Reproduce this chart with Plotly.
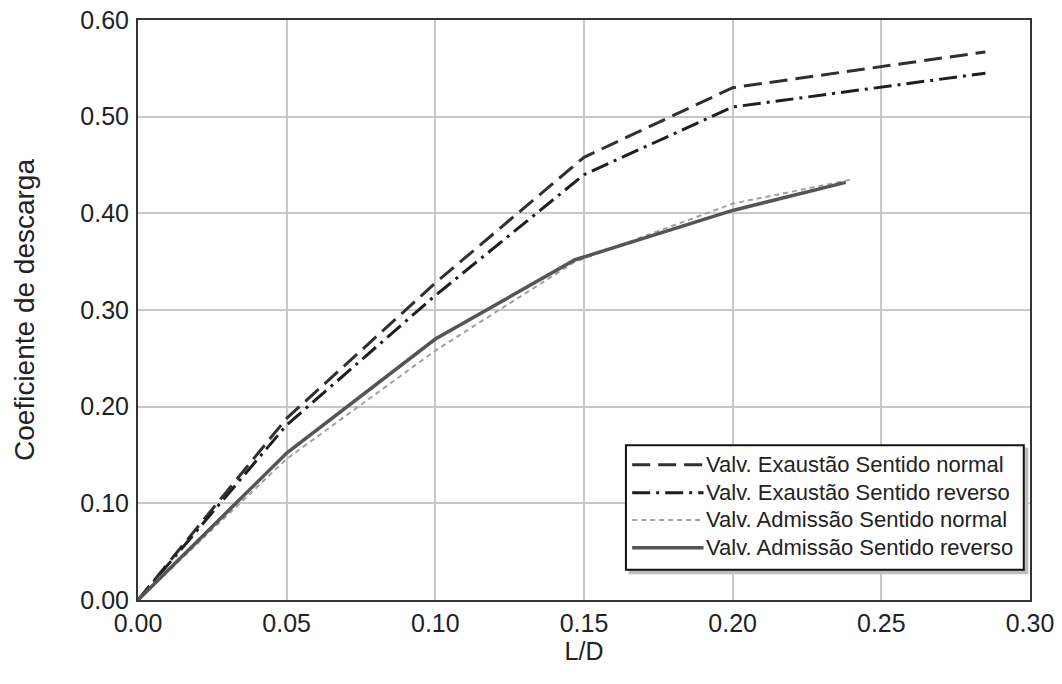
import plotly.graph_objects as go

# Data
ld_exh = [0.0, 0.05, 0.10, 0.15, 0.20, 0.285]
cd_exh_normal = [0.0, 0.188, 0.328, 0.458, 0.530, 0.567]
cd_exh_reverse = [0.0, 0.181, 0.315, 0.440, 0.510, 0.545]

ld_adm_normal = [0.0, 0.05, 0.10, 0.147, 0.20, 0.24]
cd_adm_normal = [0.0, 0.146, 0.258, 0.350, 0.410, 0.435]
ld_adm_reverse = [0.0, 0.05, 0.10, 0.147, 0.20, 0.238]
cd_adm_reverse = [0.0, 0.152, 0.270, 0.352, 0.403, 0.432]

names = [
    "Valv. Exaustão Sentido normal",
    "Valv. Exaustão Sentido reverso",
    "Valv. Admissão Sentido normal",
    "Valv. Admissão Sentido reverso",
]

x_ticks = [0.0, 0.05, 0.10, 0.15, 0.20, 0.25, 0.30]
y_ticks = [0.0, 0.10, 0.20, 0.30, 0.40, 0.50, 0.60]

font_family = "Liberation Sans, Arial, sans-serif"

styles = [
    dict(color="#303030", width=3, dash="18px,8px"),
    dict(color="#1e1e1e", width=3, dash="18px,6px,3px,6px"),
    dict(color="#a0a0a0", width=2, dash="5px,4px"),
    dict(color="#555555", width=3.5, dash="solid"),
]
series = [
    (ld_exh, cd_exh_normal),
    (ld_exh, cd_exh_reverse),
    (ld_adm_normal, cd_adm_normal),
    (ld_adm_reverse, cd_adm_reverse),
]

fig = go.Figure()
for (xs, ys), nm, st in zip(series, names, styles):
    fig.add_trace(go.Scatter(x=xs, y=ys, mode="lines", name=nm, line=st,
                             showlegend=False))

# Legend drawn as a boxed key in the lower right (long line samples as in the original)
box_x0, box_x1, box_y0, box_y1 = 0.547, 0.993, 0.052, 0.267
shapes = [
    dict(type="rect", xref="paper", yref="paper", x0=box_x0 + 0.004, x1=box_x1 + 0.004,
         y0=box_y0 - 0.006, y1=box_y1 - 0.006, line=dict(color="#bdbdbd", width=2),
         fillcolor="#bdbdbd", layer="above"),
    dict(type="rect", xref="paper", yref="paper", x0=box_x0, x1=box_x1,
         y0=box_y0, y1=box_y1, line=dict(color="#111111", width=2),
         fillcolor="white", layer="above"),
]
annotations = []
row_y = [0.233, 0.185, 0.138, 0.090]
for nm, st, ry in zip(names, styles, row_y):
    shapes.append(dict(type="line", xref="paper", yref="paper", x0=0.554, x1=0.634,
                       y0=ry, y1=ry, line=st, layer="above"))
    annotations.append(dict(xref="paper", yref="paper", x=0.635, y=ry, text=nm,
                            showarrow=False, xanchor="left", yanchor="middle",
                            font=dict(family=font_family, size=22, color="#222222")))

fig.update_layout(
    width=1062, height=684,
    margin=dict(l=138, r=32, t=20, b=84),
    plot_bgcolor="white", paper_bgcolor="white",
    font=dict(family=font_family, size=26, color="#222222"),
    showlegend=False,
    shapes=shapes,
    annotations=annotations,
)
fig.update_xaxes(
    range=[0, 0.30], tickvals=x_ticks, tickformat=".2f",
    showgrid=True, gridcolor="#c8c8c8", gridwidth=1.5,
    showline=True, linecolor="#333333", linewidth=2, mirror=True,
    ticks="", zeroline=False, automargin=False, ticklabelstandoff=0,
    tickfont=dict(size=25),
    title=dict(text="L/D", font=dict(size=25), standoff=4),
)
fig.update_yaxes(
    range=[0, 0.60], tickvals=y_ticks, tickformat=".2f",
    showgrid=True, gridcolor="#c8c8c8", gridwidth=1.5,
    showline=True, linecolor="#333333", linewidth=2, mirror=True,
    ticks="", zeroline=False, automargin=False, ticklabelstandoff=2,
    tickfont=dict(size=25),
    title=dict(text="Coeficiente de descarga", font=dict(size=28), standoff=38),
)

# remove the default 8px page margin so the figure fills the window exactly
fig.write_html("out.html", post_script="document.body.style.margin='0';",
               config={"displayModeBar": False})
